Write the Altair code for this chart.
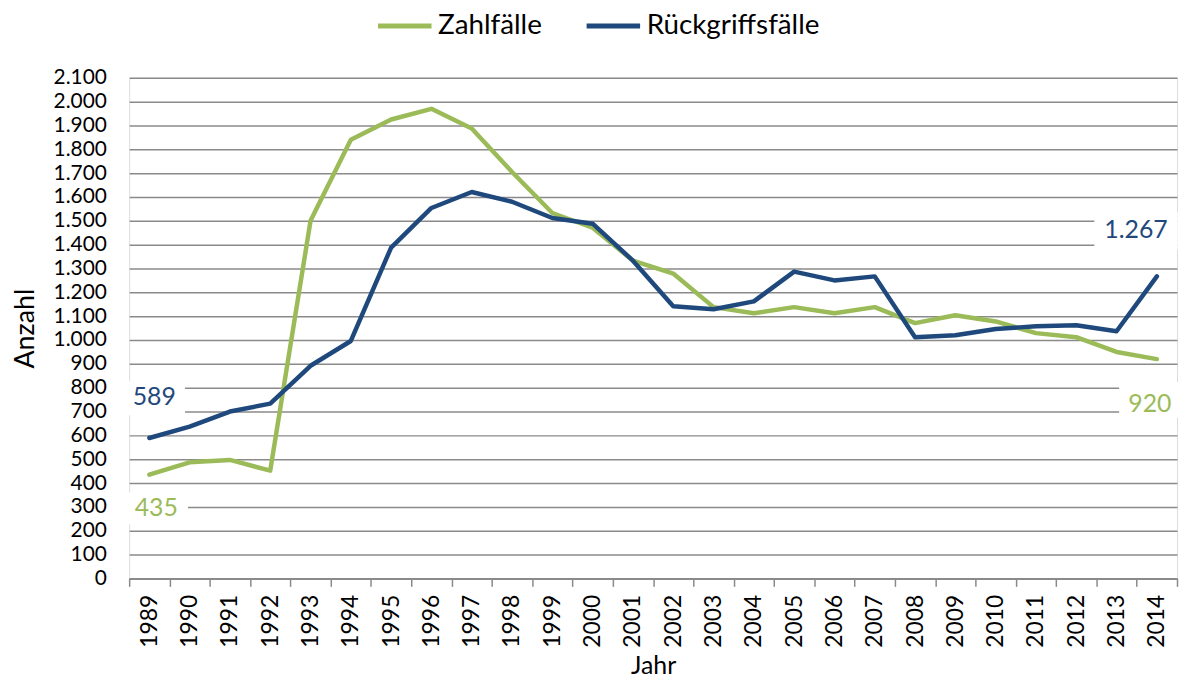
import altair as alt
import pandas as pd

years = list(range(1989, 2015))
zahlfaelle = [435, 487, 497, 452, 1500, 1840, 1925, 1970, 1887, 1705, 1533, 1471,
              1333, 1279, 1138, 1112, 1138, 1112, 1138, 1071, 1104, 1078, 1029, 1012,
              950, 920]
rueckgriff = [589, 637, 700, 733, 892, 996, 1388, 1554, 1621, 1580, 1512, 1488,
              1333, 1142, 1129, 1162, 1287, 1250, 1267, 1012, 1020, 1046, 1058, 1062,
              1037, 1267]
series_names = ["Zahlfälle", "Rückgriffsfälle"]
series_colors = ["#9BBB59", "#1F497D"]

rows = []
for y, a, b in zip(years, zahlfaelle, rueckgriff):
    rows.append({"year": y, "series": series_names[0], "value": a})
    rows.append({"year": y, "series": series_names[1], "value": b})
df = pd.DataFrame(rows)

FONT = "Lato"
german = "replace(format(datum.value, ','), ',', '.')"

x_enc = alt.X("year:O", title="Jahr",
              scale=alt.Scale(paddingInner=0, paddingOuter=0),
              axis=alt.Axis(labelAngle=-90, labelFontSize=23, labelFont=FONT,
                            labelColor="black", labelPadding=8, labelOverlap=False,
                            tickBand="extent", tickSize=8, tickColor="#8a8a8a",
                            tickWidth=1.5, domainColor="#8a8a8a", domainWidth=2,
                            titleFontSize=25, titleFont=FONT, titleFontWeight="normal",
                            titleColor="black", titlePadding=6, grid=False))
y_enc = alt.Y("value:Q", title="Anzahl",
              scale=alt.Scale(domain=[0, 2100], nice=False),
              axis=alt.Axis(values=list(range(0, 2101, 100)), labelExpr=german,
                            labelFontSize=21, labelFont=FONT, labelColor="black",
                            labelOverlap=False,
                            ticks=False, tickSize=0, labelPadding=23, domain=False,
                            grid=True, gridColor="#8a8a8a", gridWidth=1.5,
                            titleFontSize=27, titleFont=FONT, titleFontWeight="normal",
                            titleColor="black", titlePadding=14))

lines = alt.Chart(df).mark_line(strokeWidth=4.5, strokeCap="round", strokeJoin="round").encode(
    x=x_enc,
    y=y_enc,
    color=alt.Color("series:N", sort=series_names,
                    scale=alt.Scale(domain=series_names, range=series_colors),
                    legend=alt.Legend(title=None, orient="none", legendX=248, legendY=-82,
                                      direction="horizontal", symbolType="stroke",
                                      symbolSize=2900, symbolStrokeWidth=5,
                                      labelFontSize=28, labelFont=FONT, labelColor="black",
                                      labelLimit=400,
                                      labelOffset=4, columnPadding=34, padding=0)),
    order=alt.Order("year:O"),
)


def value_label(series, year, color, dx, dy, bx, by, bw, bh):
    k = bh / bw
    path = f"M-1,{-k}L1,{-k}L1,{k}L-1,{k}Z"
    base = alt.Chart(df).transform_filter(
        (alt.datum.series == series) & (alt.datum.year == year)
    ).transform_calculate(label=german)
    box = base.mark_point(shape=path, size=bw * bw, filled=True, fill="white",
                          opacity=1, strokeWidth=0, xOffset=bx, yOffset=by).encode(
        x=x_enc, y=y_enc)
    txt = base.mark_text(dx=dx, dy=dy, fontSize=25, font=FONT, color=color,
                         align="center", baseline="middle").encode(
        x=x_enc, y=y_enc, text="label:N")
    return [box, txt]


layers = [lines]
layers += value_label(series_names[1], years[0], series_colors[1], 5, -41, 7, -40, 58, 34)
layers += value_label(series_names[0], years[0], series_colors[0], 7, 34, 9, 34, 60, 32)
layers += value_label(series_names[1], years[-1], series_colors[1], -21, -47, -21, -46, 84, 38)
layers += value_label(series_names[0], years[-1], series_colors[0], -7, 45, -7, 41, 62, 36)

chart = alt.layer(*layers).properties(
    width=1055, height=504,
    padding={"left": 122, "top": 68, "right": 2, "bottom": 100},
    autosize=alt.AutoSizeParams(type="none"),
).configure_view(strokeWidth=0, stroke="transparent").configure(background="white")

chart.save("out.html", embed_options={"renderer": "svg", "actions": False})
